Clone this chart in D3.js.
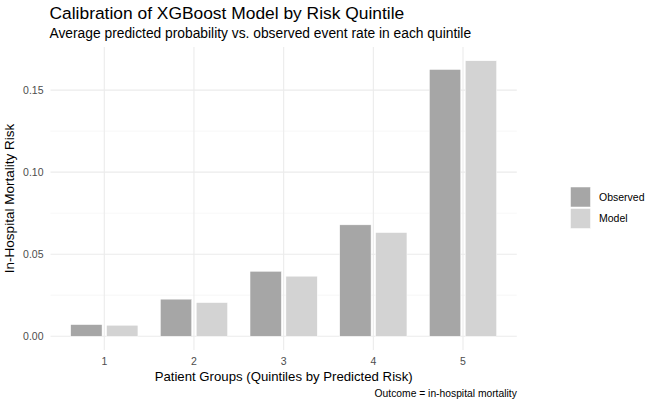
<!DOCTYPE html>
<html><head><meta charset="utf-8">
<script src="https://cdn.jsdelivr.net/npm/d3@7"></script>
<style>
body{margin:0;background:#fff;}
svg text{font-family:"Liberation Sans",Arial,Helvetica,sans-serif;}
</style></head>
<body><svg id="chart" width="650" height="403"></svg>
<script>
const categories = ["1","2","3","4","5"];
const seriesNames = ["Observed","Model"];
const observed = [0.0071, 0.0226, 0.0396, 0.0679, 0.1626];
const model = [0.0067, 0.0205, 0.0366, 0.0632, 0.1679];
const yTicks = [0.00, 0.05, 0.10, 0.15];
const yMinor = [0.025, 0.075, 0.125];
const colors = ["#a6a6a6", "#d3d3d3"];

(function(){
const svg = d3.select("#chart");
const pL = 50.5, pR = 516.8, pT = 47, pB = 350;

const yMax = d3.max(observed.concat(model));
const y = d3.scaleLinear().domain([-yMax*0.05, yMax*1.05]).range([pB, pT]);
const xp = d3.scalePoint().domain(categories).range([pL, pR]).padding(0.6);
const step = xp.step();

const g = svg.append("g");
g.selectAll(".ymin").data(yMinor).join("line")
  .attr("x1", pL).attr("x2", pR)
  .attr("y1", d => y(d)).attr("y2", d => y(d))
  .attr("stroke", "#f2f2f2").attr("stroke-width", 0.6);
g.selectAll(".ymaj").data(yTicks).join("line")
  .attr("x1", pL).attr("x2", pR)
  .attr("y1", d => y(d)).attr("y2", d => y(d))
  .attr("stroke", "#ebebeb").attr("stroke-width", 1.1);
g.selectAll(".xmaj").data(categories).join("line")
  .attr("x1", d => xp(d)).attr("x2", d => xp(d))
  .attr("y1", pT).attr("y2", pB)
  .attr("stroke", "#ebebeb").attr("stroke-width", 1.1);

const data = [];
categories.forEach((c, i) => {
  data.push({c, s: 0, v: observed[i]});
  data.push({c, s: 1, v: model[i]});
});
const bw = step * 0.35;
const off = step * 0.2;
g.selectAll(".bar").data(data).join("rect")
  .attr("x", d => xp(d.c) + (d.s === 0 ? -off : off) - bw/2)
  .attr("width", bw)
  .attr("y", d => y(d.v))
  .attr("height", d => y(0) - y(d.v))
  .attr("fill", d => colors[d.s])
  .attr("stroke", "#fff").attr("stroke-width", 0.5);

g.selectAll(".ylab").data(yTicks).join("text")
  .attr("x", 43.5).attr("y", d => y(d)).attr("dy", "0.35em")
  .attr("text-anchor", "end").attr("font-size", 10.5).attr("fill", "#4d4d4d")
  .text(d => d3.format(".2f")(d));
g.selectAll(".xlab").data(categories).join("text")
  .attr("x", d => xp(d)).attr("y", 364.5)
  .attr("text-anchor", "middle").attr("font-size", 10.5).attr("fill", "#4d4d4d")
  .text(d => d);

svg.append("text").attr("x", 49.5).attr("y", 18.5).attr("font-size", 17.4).attr("fill", "#000")
  .text("Calibration of XGBoost Model by Risk Quintile");
svg.append("text").attr("x", 49.5).attr("y", 38).attr("font-size", 13.8).attr("fill", "#000")
  .text("Average predicted probability vs. observed event rate in each quintile");
svg.append("text").attr("x", (pL+pR)/2).attr("y", 381).attr("text-anchor", "middle")
  .attr("font-size", 13.2).attr("fill", "#000")
  .text("Patient Groups (Quintiles by Predicted Risk)");
svg.append("text").attr("transform", `translate(14,${(pT+pB)/2}) rotate(-90)`)
  .attr("text-anchor", "middle").attr("font-size", 13.5).attr("fill", "#000")
  .text("In-Hospital Mortality Risk");
svg.append("text").attr("x", pR).attr("y", 397).attr("text-anchor", "end")
  .attr("font-size", 10.3).attr("fill", "#000")
  .text("Outcome = in-hospital mortality");

const lg = svg.append("g").attr("transform", "translate(570.5,187)");
seriesNames.forEach((n, i) => {
  lg.append("rect").attr("x", 0).attr("y", i*21.5).attr("width", 20).attr("height", 20)
    .attr("fill", colors[i]).attr("stroke", "#fff").attr("stroke-width", 0.5);
  lg.append("text").attr("x", 28.5).attr("y", i*21.5 + 10).attr("dy", "0.35em")
    .attr("font-size", 10.5).attr("fill", "#000").text(n);
});
})();
</script></body></html>
